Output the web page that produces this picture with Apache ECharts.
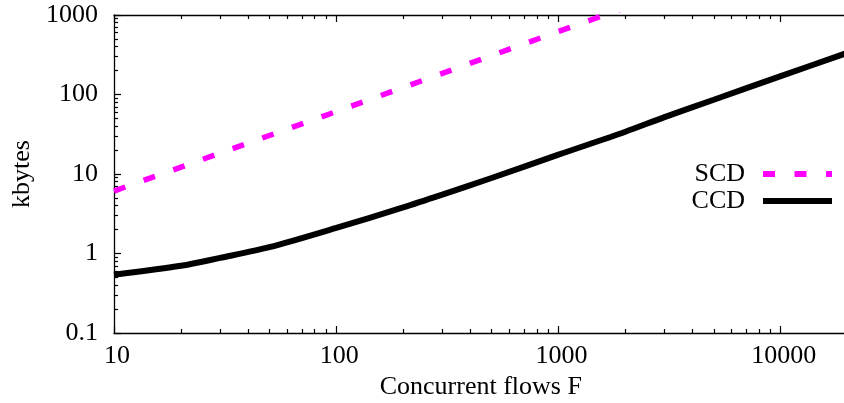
<!DOCTYPE html>
<html>
<head>
<meta charset="utf-8">
<script src="https://cdn.jsdelivr.net/npm/echarts@6/dist/echarts.min.js"></script>
<style>
  html, body { margin: 0; padding: 0; background: #fff; }
  #chart { width: 844px; height: 403px; }
</style>
</head>
<body>
<div id="chart"></div>
<script>
// Buffer size versus number of concurrent flows (log-log)
const flows = [10, 20, 30, 50, 100, 200, 300, 500, 1000, 2000, 3000, 5000, 10000, 20000];
const ccdKbytes = [0.54, 0.70, 0.88, 1.2, 2.1, 3.8, 5.5, 8.9, 17.5, 34, 52, 86, 170, 335];
const scdFlows = [10, 100, 1000, 2000];
const scdKbytes = [6.1, 61, 620, 1240];

// Axis ranges
const xRange = [10, 20000];
const yRange = [0.1, 1000];

const FONT = "'Liberation Serif', 'Times New Roman', serif";
const INK = '#000';
const frame = { color: INK, width: 1.3 };
const labelStyle = { fontFamily: FONT, fontSize: 26, color: INK };

// Log axis with inward major ticks and 2..9 minor ticks
function logAxis(range, position, extra) {
  return Object.assign({
    type: 'log', logBase: 10, min: range[0], max: range[1], position: position,
    axisLine: { show: true, onZero: false, lineStyle: frame },
    axisTick: { show: true, inside: true, length: 7, lineStyle: { color: INK, width: 1.2 } },
    minorTick: { show: true, splitNumber: 9, length: 4, lineStyle: { color: INK, width: 1.2 } },
    axisLabel: { show: false },
    splitLine: { show: false },
    minorSplitLine: { show: false }
  }, extra || {});
}

const chart = echarts.init(document.getElementById('chart'), null, { renderer: 'canvas' });
chart.setOption({
  backgroundColor: '#fff',
  animation: false,
  grid: { left: 114, top: 15, width: 733.6, height: 318, containLabel: false, outerBoundsMode: 'none' },
  xAxis: [
    logAxis(xRange, 'bottom', {
      name: 'Concurrent flows F', nameLocation: 'middle', nameGap: 36, nameTextStyle: labelStyle,
      axisLabel: Object.assign({ show: true, margin: 10, padding: [0, 0, 0, 6], showMaxLabel: false,
                                 formatter: v => String(v) }, labelStyle)
    }),
    logAxis(xRange, 'top')
  ],
  yAxis: [
    logAxis(yRange, 'left', {
      name: 'kbytes', nameLocation: 'middle', nameGap: 76, nameTextStyle: labelStyle,
      axisLabel: Object.assign({ show: true, margin: 16, formatter: v => String(v) }, labelStyle)
    })
  ],
  legend: {
    orient: 'vertical', right: 4, top: 156, align: 'right',
    itemWidth: 69, itemHeight: 6, itemGap: 1,
    textStyle: { fontFamily: FONT, fontSize: 26, color: INK, lineHeight: 26, padding: [0, 13, 0, 0] },
    lineStyle: { width: 6 },
    data: ['SCD', 'CCD']
  },
  series: [
    {
      name: 'SCD', type: 'line', xAxisIndex: 0, yAxisIndex: 0,
      data: scdFlows.map((f, i) => [f, scdKbytes[i]]),
      symbol: 'none', clip: true,
      lineStyle: { color: '#ff00ff', width: 5.5, type: [12, 19.5], cap: 'butt' },
      itemStyle: { color: '#ff00ff' }
    },
    {
      name: 'CCD', type: 'line', xAxisIndex: 0, yAxisIndex: 0,
      data: flows.map((f, i) => [f, ccdKbytes[i]]),
      symbol: 'none', clip: true, smooth: 0.3,
      lineStyle: { color: '#000', width: 6 },
      itemStyle: { color: '#000' }
    }
  ]
});
</script>
</body>
</html>
